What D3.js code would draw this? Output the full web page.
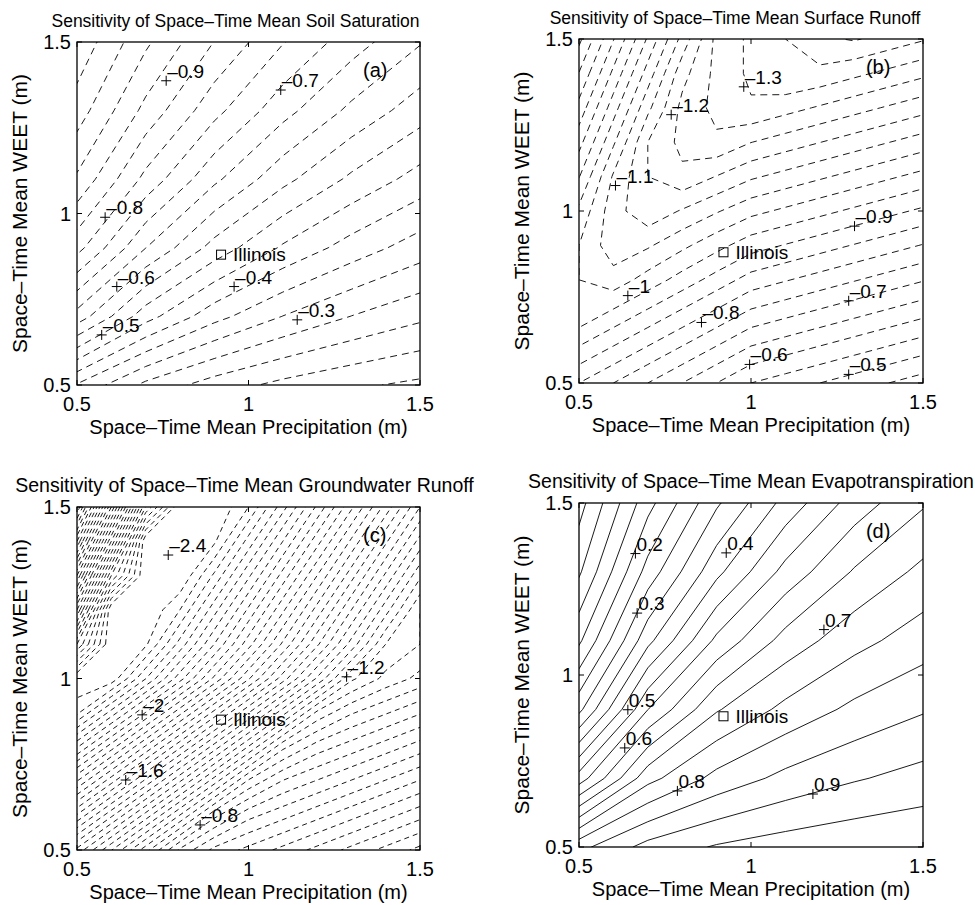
<!DOCTYPE html>
<html>
<head>
<meta charset="utf-8">
<script src="https://cdn.jsdelivr.net/npm/d3@7"></script>
<style>
  body { margin: 0; background: #fff; }
  text { font-family: "Liberation Sans", Arial, Helvetica, sans-serif; fill: #000; }
</style>
</head>
<body>
<script>
  'use strict';

  const titles = [
    'Sensitivity of Space–Time Mean Soil Saturation',
    'Sensitivity of Space–Time Mean Surface Runoff',
    'Sensitivity of Space–Time Mean Groundwater Runoff',
    'Sensitivity of Space–Time Mean Evapotranspiration',
  ];
  const letters = ['(a)', '(b)', '(c)', '(d)'];
  const xTitle = 'Space–Time Mean Precipitation (m)';
  const yTitle = 'Space–Time Mean WEET (m)';
  const ticks = [0.5, 1, 1.5];
  const tickText = ['0.5', '1', '1.5'];
  const illinois = [0.92, 0.88];
  const letterPos = [1.334, 1.398];

  // sensitivity grids
  // rows: WEET 1.5 (top) -> 0.5, columns: precipitation 0.5 -> 1.5
  const gridA = [
    [-1.087, -0.960, -0.849, -0.753, -0.673, -0.604],
    [-1.026, -0.885, -0.766, -0.668, -0.588, -0.523],
    [-0.942, -0.785, -0.661, -0.565, -0.490, -0.430],
    [-0.818, -0.651, -0.531, -0.443, -0.378, -0.325],
    [-0.630, -0.471, -0.368, -0.299, -0.249, -0.211],
    [-0.345, -0.237, -0.176, -0.136, -0.109, -0.089],
  ];
  const gridB = [
    [-0.637, -0.797, -0.957, -1.117, -1.265, -1.310, -1.350, -1.390, -1.405, -1.380, -1.355],
    [-0.702, -0.862, -1.022, -1.182, -1.265, -1.310, -1.350, -1.337, -1.312, -1.287, -1.262],
    [-0.767, -0.927, -1.087, -1.215, -1.265, -1.294, -1.269, -1.244, -1.219, -1.194, -1.169],
    [-0.832, -0.992, -1.150, -1.215, -1.241, -1.201, -1.176, -1.151, -1.126, -1.101, -1.076],
    [-0.897, -1.057, -1.150, -1.188, -1.148, -1.108, -1.083, -1.058, -1.033, -1.008, -0.983],
    [-0.962, -1.080, -1.135, -1.095, -1.055, -1.015, -0.990, -0.965, -0.940, -0.915, -0.890],
    [-1.000, -1.080, -1.057, -1.012, -0.967, -0.922, -0.897, -0.872, -0.847, -0.822, -0.797],
    [-1.000, -1.029, -0.979, -0.929, -0.879, -0.829, -0.804, -0.779, -0.754, -0.729, -0.704],
    [-0.986, -0.936, -0.886, -0.836, -0.786, -0.736, -0.711, -0.686, -0.661, -0.636, -0.611],
    [-0.893, -0.843, -0.793, -0.743, -0.693, -0.643, -0.618, -0.593, -0.568, -0.543, -0.518],
    [-0.800, -0.750, -0.700, -0.650, -0.600, -0.550, -0.525, -0.500, -0.475, -0.450, -0.425],
  ];
  const gridC = [
    [-0.950, -1.550, -2.150, -2.450, -2.450, -2.350, -2.170, -1.990, -1.810, -1.630, -1.450],
    [-1.250, -1.850, -2.450, -2.450, -2.410, -2.230, -2.050, -1.870, -1.690, -1.510, -1.330],
    [-1.550, -2.150, -2.450, -2.450, -2.290, -2.110, -1.930, -1.750, -1.570, -1.390, -1.210],
    [-1.850, -2.450, -2.450, -2.350, -2.170, -1.990, -1.810, -1.630, -1.450, -1.270, -1.100],
    [-2.150, -2.450, -2.410, -2.230, -2.050, -1.870, -1.690, -1.510, -1.330, -1.150, -1.100],
    [-2.450, -2.435, -2.253, -2.071, -1.889, -1.707, -1.525, -1.343, -1.161, -1.085, -1.035],
    [-2.361, -2.179, -1.997, -1.815, -1.633, -1.451, -1.269, -1.087, -1.005, -0.955, -0.905],
    [-2.104, -1.922, -1.740, -1.558, -1.376, -1.194, -1.012, -0.925, -0.875, -0.825, -0.775],
    [-1.848, -1.666, -1.484, -1.302, -1.120, -0.938, -0.845, -0.795, -0.745, -0.695, -0.645],
    [-1.591, -1.409, -1.227, -1.045, -0.863, -0.765, -0.715, -0.665, -0.615, -0.565, -0.515],
    [-1.335, -1.153, -0.971, -0.789, -0.685, -0.635, -0.585, -0.535, -0.485, -0.435, -0.385],
  ];
  const gridD = [
    [-0.020, 0.182, 0.342, 0.467, 0.573, 0.644],
    [0.042, 0.270, 0.436, 0.567, 0.655, 0.713],
    [0.140, 0.385, 0.562, 0.669, 0.733, 0.776],
    [0.286, 0.549, 0.695, 0.764, 0.812, 0.845],
    [0.522, 0.733, 0.816, 0.864, 0.895, 0.918],
    [0.835, 0.918, 0.955, 0.975, 0.988, 0.996],
  ];

  // contour levels: from, to, step
  const levelsA = [-1.1, -0.1, 0.05];
  const levelsB = [-1.5, -0.4, 0.05];
  const levelsC = [-2.4, -0.35, 0.05];
  const levelsD = [-0.05, 1.0, 0.05];

  // inline contour labels: precipitation, WEET, text
  const labelsA = [
    [0.76, 1.387, '–0.9'], [1.094, 1.36, '–0.7'], [0.582, 0.989, '–0.8'],
    [0.616, 0.787, '–0.6'], [0.958, 0.787, '–0.4'], [0.572, 0.646, '–0.5'],
    [1.142, 0.69, '–0.3'],
  ];
  const labelsB = [
    [0.979, 1.361, '–1.3'], [0.768, 1.28, '–1.2'], [0.606, 1.074, '–1.1'],
    [1.301, 0.956, '–0.9'], [0.642, 0.754, '–1'], [1.284, 0.739, '–0.7'],
    [0.856, 0.676, '–0.8'], [0.996, 0.554, '–0.6'], [1.284, 0.525, '–0.5'],
  ];
  const labelsC = [
    [0.766, 1.36, '–2.4'], [1.286, 1.005, '–1.2'], [0.69, 0.894, '–2'],
    [0.642, 0.704, '–1.6'], [0.859, 0.573, '–0.8'],
  ];
  const labelsD = [
    [0.664, 1.353, '0.2'], [0.928, 1.355, '0.4'], [0.669, 1.18, '0.3'],
    [1.212, 1.132, '0.7'], [0.642, 0.899, '0.5'], [0.633, 0.788, '0.6'],
    [0.786, 0.663, '0.8'], [1.18, 0.654, '0.9'],
  ];

  const width = 975;
  const height = 905;

  const panels = [
    { left: 77, top: 42, size: 343, grid: gridA, levels: levelsA, labels: labelsA,
      dash: '7,5', titleSize: 17.5, titleShift: -13 },
    { left: 579, top: 39, size: 344, grid: gridB, levels: levelsB, labels: labelsB,
      dash: '7,5', titleSize: 17.5, titleShift: -16 },
    { left: 77, top: 507, size: 343, grid: gridC, levels: levelsC, labels: labelsC,
      dash: '5,4', titleSize: 19.5, titleShift: -4 },
    { left: 579, top: 503, size: 344, grid: gridD, levels: levelsD, labels: labelsD,
      dash: null, titleSize: 19.5, titleShift: 0 },
  ];

  const svg = d3.select('body')
    .append('svg')
    .attr('width', width)
    .attr('height', height);

  const drawPanel = (p, i) => {
    const g = svg.append('g');
    const x = d3.scaleLinear().domain([0.5, 1.5]).range([p.left, p.left + p.size]);
    const y = d3.scaleLinear().domain([0.5, 1.5]).range([p.top + p.size, p.top]);

    // contour lines from the grid
    const n = p.grid[0].length;
    const m = p.grid.length;
    const step = 1 / (n - 1);
    const [from, to, by] = p.levels;
    const thresholds = d3.range(from, to + by / 2, by).map((v) => Math.round(v * 1000) / 1000);
    const contours = d3.contours()
      .size([n, m])
      .thresholds(thresholds)(p.grid.flat());

    // grid coordinate -> data (sample i sits at i + 0.5)
    const path = d3.geoPath(d3.geoTransform({
      point(cx, cy) {
        this.stream.point(x(0.5 + (cx - 0.5) * step), y(1.5 - (cy - 0.5) * step));
      },
    }));

    const clipId = `clip${i}`;
    g.append('clipPath').attr('id', clipId)
      .append('rect')
      .attr('x', p.left).attr('y', p.top)
      .attr('width', p.size).attr('height', p.size);

    g.append('g')
      .attr('clip-path', `url(#${clipId})`)
      .selectAll('path')
      .data(contours)
      .join('path')
      .attr('d', path)
      .attr('fill', 'none')
      .attr('stroke', '#000')
      .attr('stroke-width', 0.9)
      .attr('stroke-dasharray', p.dash);

    // frame and inward ticks
    g.append('rect')
      .attr('x', p.left).attr('y', p.top)
      .attr('width', p.size).attr('height', p.size)
      .attr('fill', 'none').attr('stroke', '#000').attr('stroke-width', 1.3);

    const tl = 5;
    ticks.forEach((t) => {
      g.append('path')
        .attr('d', `M${x(t)},${p.top + p.size}v${-tl}M${x(t)},${p.top}v${tl}`
          + `M${p.left},${y(t)}h${tl}M${p.left + p.size},${y(t)}h${-tl}`)
        .attr('stroke', '#000');
    });

    g.selectAll('text.xt').data(ticks).join('text')
      .attr('class', 'xt')
      .attr('x', (d) => x(d)).attr('y', p.top + p.size + 26)
      .attr('text-anchor', 'middle').attr('font-size', 20)
      .text((d, k) => tickText[k]);

    g.selectAll('text.yt').data(ticks).join('text')
      .attr('class', 'yt')
      .attr('x', p.left - 6).attr('y', (d) => y(d))
      .attr('dy', '0.35em')
      .attr('text-anchor', 'end').attr('font-size', 20)
      .text((d, k) => tickText[k]);

    g.append('text')
      .attr('x', p.left + p.size / 2).attr('y', p.top + p.size + 49)
      .attr('text-anchor', 'middle').attr('font-size', 20)
      .text(xTitle);

    g.append('text')
      .attr('transform', `translate(${p.left - 50},${p.top + p.size / 2}) rotate(-90)`)
      .attr('text-anchor', 'middle').attr('font-size', 21)
      .text(yTitle);

    g.append('text')
      .attr('x', p.left + p.size / 2 + p.titleShift).attr('y', p.top - 15)
      .attr('text-anchor', 'middle').attr('font-size', p.titleSize)
      .text(titles[i]);

    g.append('text')
      .attr('x', x(letterPos[0])).attr('y', y(letterPos[1]))
      .attr('font-size', 20)
      .text(letters[i]);

    // contour labels with + markers
    const lab = g.selectAll('g.lab').data(p.labels).join('g')
      .attr('class', 'lab')
      .attr('transform', (d) => `translate(${x(d[0])},${y(d[1])})`);
    lab.append('path').attr('d', 'M-5,0H5M0,-5V5').attr('stroke', '#000');
    lab.append('text').attr('x', 1).attr('y', -3).attr('font-size', 19).text((d) => d[2]);

    // Illinois marker
    g.append('rect')
      .attr('x', x(illinois[0]) - 4.5).attr('y', y(illinois[1]) - 4.5)
      .attr('width', 9).attr('height', 9)
      .attr('fill', 'none').attr('stroke', '#000');
    g.append('text')
      .attr('x', x(illinois[0]) + 12).attr('y', y(illinois[1]))
      .attr('dy', '0.35em').attr('font-size', 19)
      .text('Illinois');
  };

  panels.forEach(drawPanel);
</script>
</body>
</html>
